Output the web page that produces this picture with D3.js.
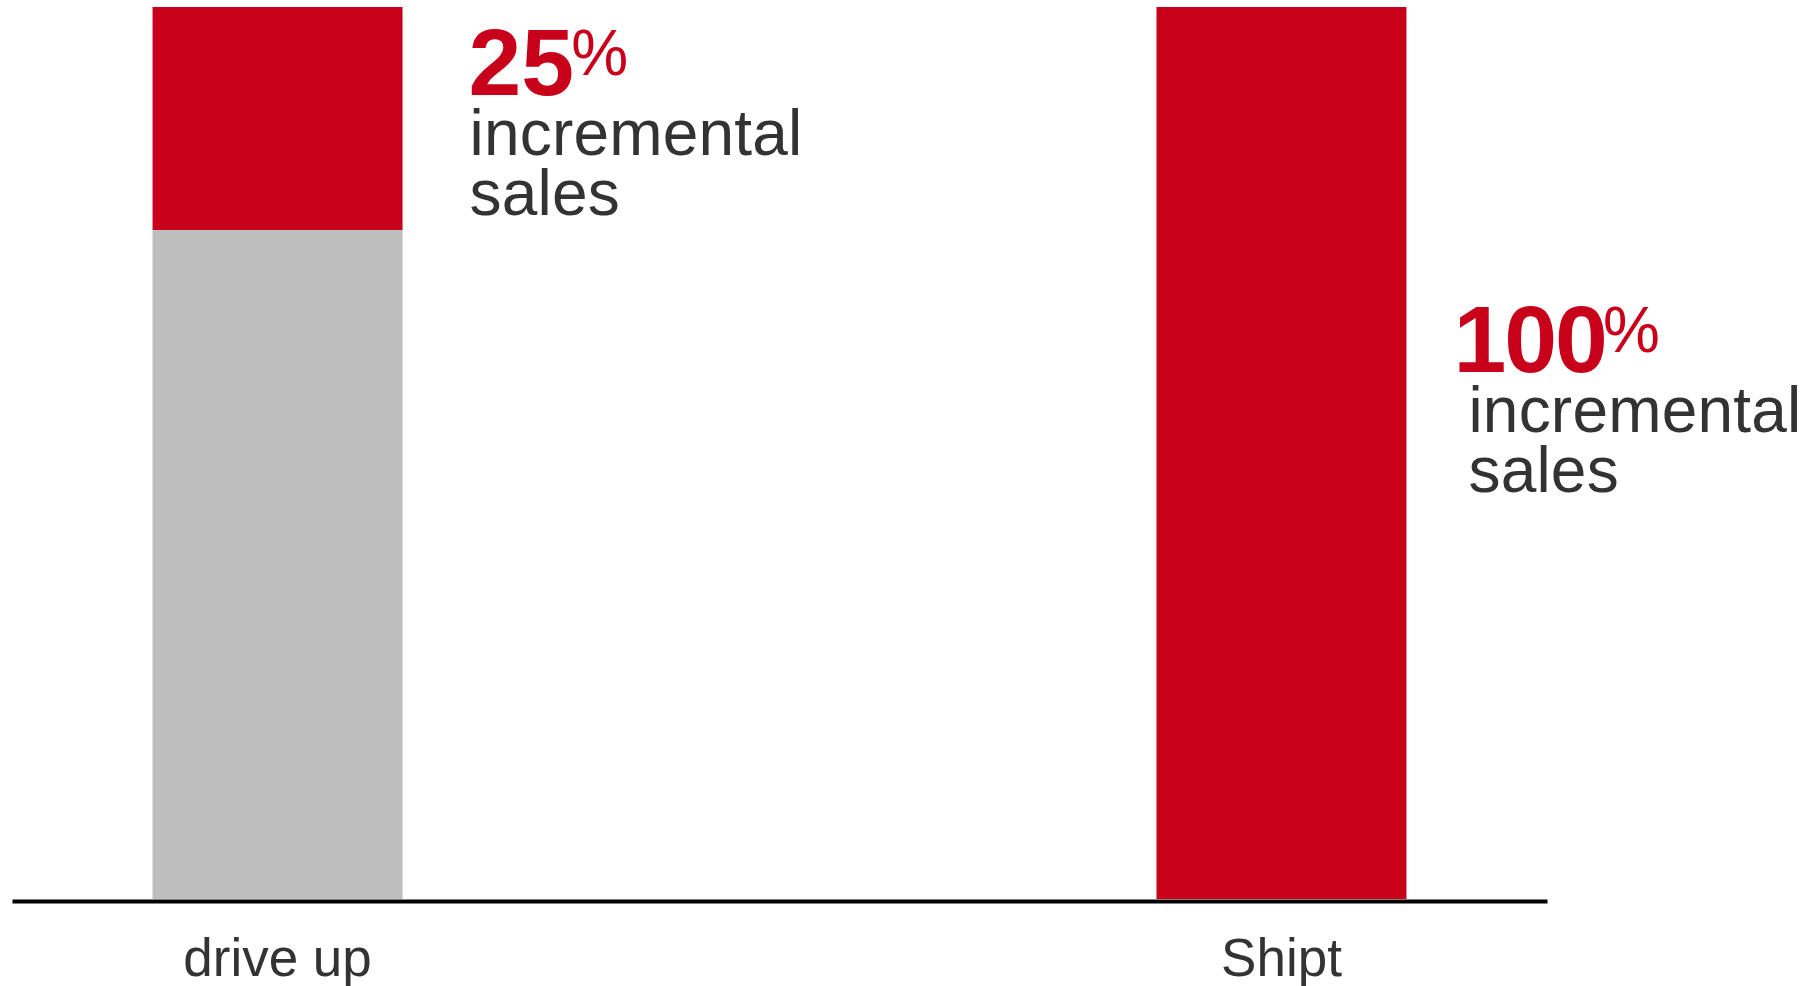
<!DOCTYPE html>
<html>
<head>
<meta charset="utf-8">
<script src="https://cdn.jsdelivr.net/npm/d3@7"></script>
<style>
  html, body { margin: 0; padding: 0; background: #fff; }
  svg { display: block; }
  text { font-family: "Liberation Sans", Arial, Helvetica, sans-serif; }
</style>
</head>
<body>
<script>
// ---- data ----
const categories = ["drive up", "Shipt"];
const baseValues = [75, 0];          // grey portion (existing sales)
const incrementalValues = [25, 100]; // red portion (incremental sales)
const pctLabels = ["25", "100"];
const subLabelLines = ["incremental", "sales"];

// ---- layout ----
const W = 1818, H = 986;
const RED = "#c8001a", GREY = "#bebebe", TEXT = "#333333";
const annotationBaseline = [95, 372];
const bigDx = [0, -19];
const subDx = [1, -4];

const svg = d3.select("body").append("svg").attr("width", W).attr("height", H);

const x = d3.scaleBand().domain(categories).range([12, 1547])
  .paddingInner(0.751).paddingOuter(0.14);
const y = d3.scaleLinear().domain([0, 100]).range([899, 7]);

const rows = categories.map((c, i) => ({
  cat: c, base: baseValues[i], inc: incrementalValues[i], pct: pctLabels[i],
  ay: annotationBaseline[i], bdx: bigDx[i], sdx: subDx[i]
}));

// grey base segments
svg.selectAll("rect.base").data(rows).join("rect")
  .attr("class", "base")
  .attr("x", d => x(d.cat)).attr("width", x.bandwidth())
  .attr("y", d => y(d.base)).attr("height", d => y(0) - y(d.base))
  .attr("fill", GREY);

// red incremental segments
svg.selectAll("rect.inc").data(rows).join("rect")
  .attr("class", "inc")
  .attr("x", d => x(d.cat)).attr("width", x.bandwidth())
  .attr("y", d => y(d.base + d.inc)).attr("height", d => y(d.base) - y(d.base + d.inc))
  .attr("fill", RED);

// axis
const axis = svg.append("g").attr("transform", "translate(0,901)")
  .call(d3.axisBottom(x).tickSize(0).tickSizeOuter(0));
axis.select(".domain").attr("stroke", "#000").attr("stroke-width", 4);
axis.selectAll(".tick text")
  .attr("y", 75).attr("dy", 0)
  .attr("fill", TEXT)
  .style("font-size", "53px")
  .style("font-family", '"Liberation Sans", Arial, Helvetica, sans-serif');

// annotations (one text element per bar, lines as tspans)
const ann = svg.selectAll("text.ann").data(rows).join("text").attr("class", "ann")
  .attr("transform", d => `translate(${x(d.cat) + x.bandwidth() + 66},${d.ay})`);

ann.append("tspan").text(d => d.pct)
  .attr("x", d => d.bdx).attr("y", 0)
  .attr("fill", RED)
  .style("letter-spacing", d => d.pct.length > 2 ? "-2px" : "0px")
  .style("font-size", "95px").style("font-weight", "bold");
ann.append("tspan").text("%")
  .attr("dx", -3).attr("y", -20)
  .attr("fill", RED)
  .style("font-size", "64px").style("font-weight", "normal");

subLabelLines.forEach((line, i) => {
  ann.append("tspan")
    .attr("x", d => d.sdx)
    .attr("y", 60 * (i + 1))
    .attr("fill", TEXT)
    .style("font-size", "64px")
    .style("letter-spacing", "0.2px")
    .text(line);
});
</script>
</body>
</html>
